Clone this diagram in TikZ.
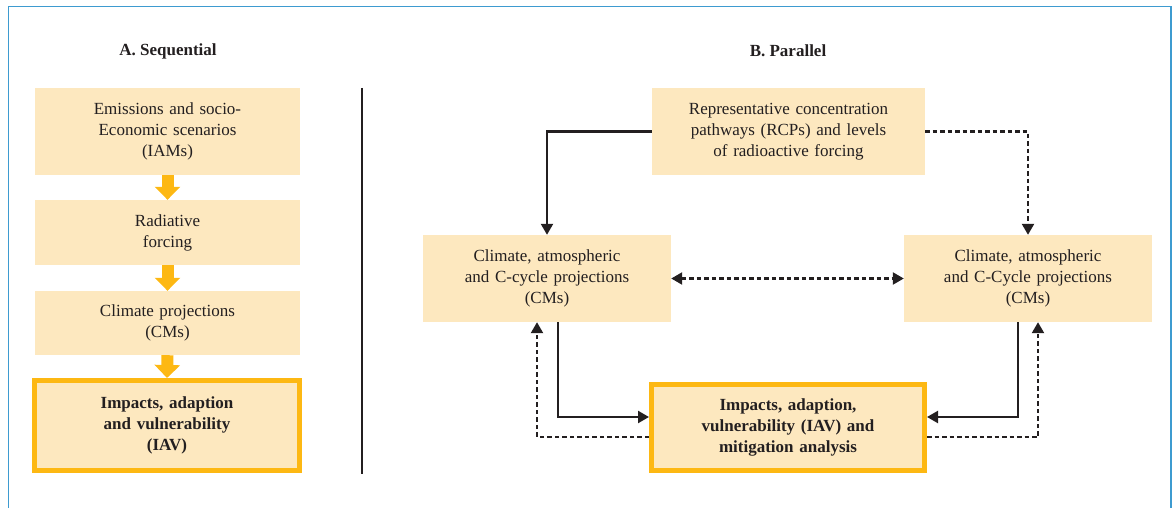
\documentclass[tikz,border=0pt]{standalone}
\usepackage{fontspec}
\setmainfont{Liberation Serif}
\usetikzlibrary{arrows.meta,calc}
\definecolor{boxfill}{HTML}{FDE8BF}
\definecolor{boxorange}{HTML}{FDB813}
\definecolor{frameblue}{HTML}{3E9BD0}
\definecolor{ink}{HTML}{231F20}
\begin{document}
\begin{tikzpicture}[x=1pt,y=-1pt,
  every node/.style={font=\fontsize{17}{21}\selectfont, text=ink, align=center, inner sep=0pt},
  plainbox/.style={fill=boxfill, minimum width=265, text width=250},
  keybox/.style={fill=boxfill, draw=boxorange, line width=5pt, font=\fontsize{17}{21}\selectfont\bfseries},
  pbox/.style={fill=boxfill, minimum width=248, minimum height=87, text width=240},
  heading/.style={font=\fontsize{17}{21}\selectfont\bfseries},
  flow/.style={draw=boxorange, line width=12pt, -{Triangle[length=13pt,width=25pt]}},
  conn/.style={draw=ink, line width=2.3pt, -{Triangle[length=11pt,width=12pt]}},
  dconn/.style={conn, dash pattern=on 4.5pt off 3pt},
]
\useasboundingbox (0,0) rectangle (1176,508);
% frame
\draw[frameblue, line width=1.5pt] (8.5,508) -- (8.5,6.5) -- (1171,6.5) -- (1171,508);
% headings
\node[heading] (ha) at (168,51) {A. Sequential};
\node[heading] (hb) at (788,51) {B. Parallel};
% divider
\draw[ink, line width=1.3pt] (362,88) -- (362,474);
% sequential column
\node[plainbox, minimum height=87] (b1) at (167.5,131.5) {Emissions and socio-\\Economic scenarios\\(IAMs)};
\node[plainbox, minimum height=65] (b2) at (167.5,232.5) {Radiative\\forcing};
\node[plainbox, minimum height=64] (b3) at (167.5,323) {Climate projections\\(CMs)};
\node[keybox, minimum width=265, minimum height=90, text width=250] (b4) at (167,425.5) {Impacts, adaption\\and vulnerability\\(IAV)};
\draw[flow] (b1.south) -- (b2.north);
\draw[flow] (b2.south) -- (b3.north);
\draw[flow] (b3.south) -- (b4.north);
% parallel
\node[pbox, minimum width=273] (rcp) at (788.5,131.5) {Representative concentration\\pathways (RCPs) and levels\\of radioactive forcing};
\node[pbox] (cml) at (547,278.5) {Climate, atmospheric\\and C-cycle projections\\(CMs)};
\node[pbox] (cmr) at (1028,278.5) {Climate, atmospheric\\and C-Cycle projections\\(CMs)};
\node[keybox, minimum width=273, minimum height=86, text width=260] (iav) at (788,427.5) {Impacts, adaption,\\vulnerability (IAV) and\\mitigation analysis};
\draw[conn] (rcp.west) -| (cml.north);
\draw[dconn] (rcp.east) -| (cmr.north);
\draw[dconn, {Triangle[length=11pt,width=12pt]}-{Triangle[length=11pt,width=12pt]}] (cml.east) -- (cmr.west);
\draw[conn] ($(cml.south)+(11,0)$) |- ($(iav.west)+(0,-10.5)$);
\draw[dconn] ($(iav.west)+(0,9.5)$) -| ($(cml.south)+(-10,0)$);
\draw[conn] ($(cmr.south)+(-10,0)$) |- ($(iav.east)+(0,-10.5)$);
\draw[dconn] ($(iav.east)+(0,9.5)$) -| ($(cmr.south)+(10,0)$);
\end{tikzpicture}
\end{document}
